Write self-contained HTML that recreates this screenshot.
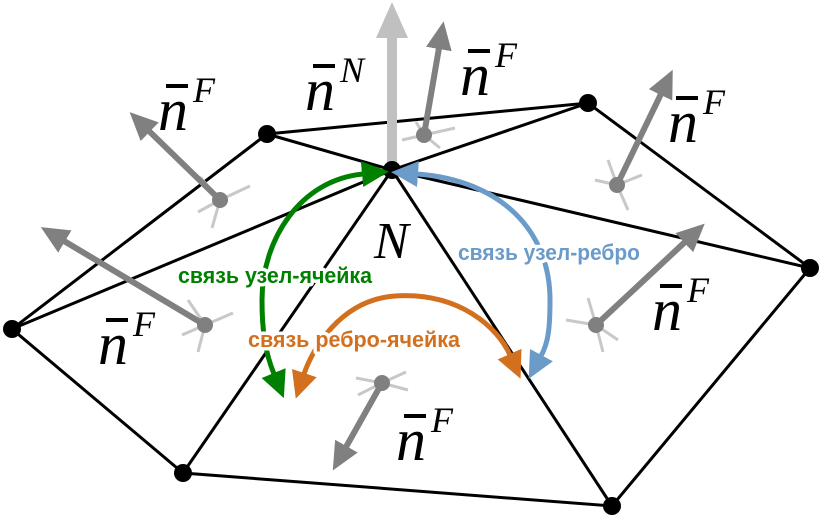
<!DOCTYPE html>
<html><head><meta charset="utf-8"><style>html,body{margin:0;padding:0;background:#fff}svg{display:block}</style></head>
<body>
<svg width="823" height="520" viewBox="0 0 823 520" xmlns="http://www.w3.org/2000/svg">
<defs>
<marker id="ag" markerUnits="userSpaceOnUse" markerWidth="30" markerHeight="28" refX="1" refY="13" orient="auto"><path d="M0,0 L28,13 L0,26 z" fill="#808080"/></marker>
<marker id="aG" markerUnits="userSpaceOnUse" markerWidth="30" markerHeight="28" refX="1" refY="13" orient="auto-start-reverse"><path d="M0,0 L27,13 L0,26 z" fill="#008000"/></marker>
<marker id="aB" markerUnits="userSpaceOnUse" markerWidth="30" markerHeight="28" refX="1" refY="13" orient="auto-start-reverse"><path d="M0,0 L27,13 L0,26 z" fill="#6a9bc9"/></marker>
<marker id="aO" markerUnits="userSpaceOnUse" markerWidth="30" markerHeight="28" refX="1" refY="13" orient="auto-start-reverse"><path d="M0,0 L27,13 L0,26 z" fill="#d2701e"/></marker>
</defs>
<g stroke="#000" stroke-width="3" fill="none">
<polygon points="267,134 588,103 810,268 612,506 183,473 12,329"/>
<line x1="392" y1="170" x2="267" y2="134"/>
<line x1="392" y1="170" x2="588" y2="103"/>
<line x1="392" y1="170" x2="810" y2="268"/>
<line x1="392" y1="170" x2="612" y2="506"/>
<line x1="392" y1="170" x2="183" y2="473"/>
<line x1="392" y1="170" x2="12" y2="329"/>
</g>
<line x1="392" y1="165" x2="392" y2="35" stroke="#c0c0c0" stroke-width="10"/>
<polygon points="392,2 376,38 408,38" fill="#c0c0c0"/>
<g stroke="#c8c8c8" stroke-width="3">
<path d="M220,200 L250,186 M220,200 L212,228 M220,200 L200,177 M220,200 L198,212"/>
<path d="M205,325 L233,313 M205,325 L198,352 M205,325 L188,300 M205,325 L182,335"/>
<path d="M424,135 L455,128 M424,135 L440,148 M424,135 L402,140 M424,135 L416,122"/>
<path d="M617,185 L642,175 M617,185 L628,210 M617,185 L595,180 M617,185 L608,160"/>
<path d="M596,325 L618,340 M596,325 L603,352 M596,325 L566,320 M596,325 L588,298"/>
<path d="M382,383 L406,372 M382,383 L408,390 M382,383 L356,378 M382,383 L358,395"/>
</g>
<g stroke="#808080" stroke-width="6" marker-end="url(#ag)">
<line x1="220" y1="200" x2="149" y2="131"/>
<line x1="205" y1="325" x2="64" y2="241"/>
<line x1="424" y1="135" x2="439" y2="48"/>
<line x1="617" y1="185" x2="661" y2="94"/>
<line x1="596" y1="325" x2="685" y2="242"/>
<line x1="382" y1="383" x2="346" y2="447"/>
</g>
<g fill="#808080">
<circle cx="220" cy="200" r="8"/><circle cx="205" cy="325" r="8"/><circle cx="424" cy="135" r="8"/>
<circle cx="617" cy="185" r="8"/><circle cx="596" cy="325" r="8"/><circle cx="382" cy="383" r="8"/>
</g>
<g fill="#000">
<circle cx="392" cy="170" r="9"/><circle cx="267" cy="134" r="9"/><circle cx="588" cy="103" r="9"/>
<circle cx="810" cy="268" r="9"/><circle cx="12" cy="329" r="9"/><circle cx="183" cy="473" r="9"/><circle cx="612" cy="506" r="9"/>
</g>
<path d="M363,174 C300,180 262,240 262,300 C262,330 265,352 274,374" stroke="#008000" stroke-width="5" fill="none" marker-start="url(#aG)" marker-end="url(#aG)"/>
<path d="M417,174 C500,180 550,230 550,300 C550,330 548,343 541,356" stroke="#6a9bc9" stroke-width="5" fill="none" marker-start="url(#aB)" marker-end="url(#aB)"/>
<path d="M304,374 C312,350 340,300 395,296 C460,292 498,328 510,355" stroke="#d2701e" stroke-width="5" fill="none" marker-start="url(#aO)" marker-end="url(#aO)"/>
<g font-family="'Liberation Sans',sans-serif" font-weight="bold" font-size="22" stroke="#fff" stroke-width="7" paint-order="stroke" stroke-linejoin="round">
<text x="178" y="283" fill="#008000" textLength="194" lengthAdjust="spacingAndGlyphs">связь узел-ячейка</text>
<text x="458" y="260" fill="#6a9bc9" textLength="182" lengthAdjust="spacingAndGlyphs">связь узел-ребро</text>
<text x="248" y="347" fill="#d2701e" textLength="212" lengthAdjust="spacingAndGlyphs">связь ребро-ячейка</text>
</g>
<g font-family="'Liberation Serif',serif" font-style="italic" fill="#000">
<text x="374" y="258" font-size="52">N</text>
<text x="158" y="130" font-size="60">n</text><text x="193" y="102" font-size="36">F</text>
<text x="305" y="110" font-size="60">n</text><text x="340" y="82" font-size="36">N</text>
<text x="460" y="95" font-size="60">n</text><text x="495" y="67" font-size="36">F</text>
<text x="668" y="142" font-size="60">n</text><text x="703" y="114" font-size="36">F</text>
<text x="98" y="364" font-size="60">n</text><text x="133" y="336" font-size="36">F</text>
<text x="652" y="330" font-size="60">n</text><text x="687" y="302" font-size="36">F</text>
<text x="396" y="460" font-size="60">n</text><text x="431" y="432" font-size="36">F</text>
</g>
<g fill="#000">
<rect x="166" y="84" width="22" height="4"/>
<rect x="313" y="64" width="22" height="4"/>
<rect x="468" y="49" width="22" height="4"/>
<rect x="676" y="96" width="22" height="4"/>
<rect x="106" y="318" width="22" height="4"/>
<rect x="660" y="284" width="22" height="4"/>
<rect x="404" y="414" width="22" height="4"/>
</g>
</svg>
</body></html>
